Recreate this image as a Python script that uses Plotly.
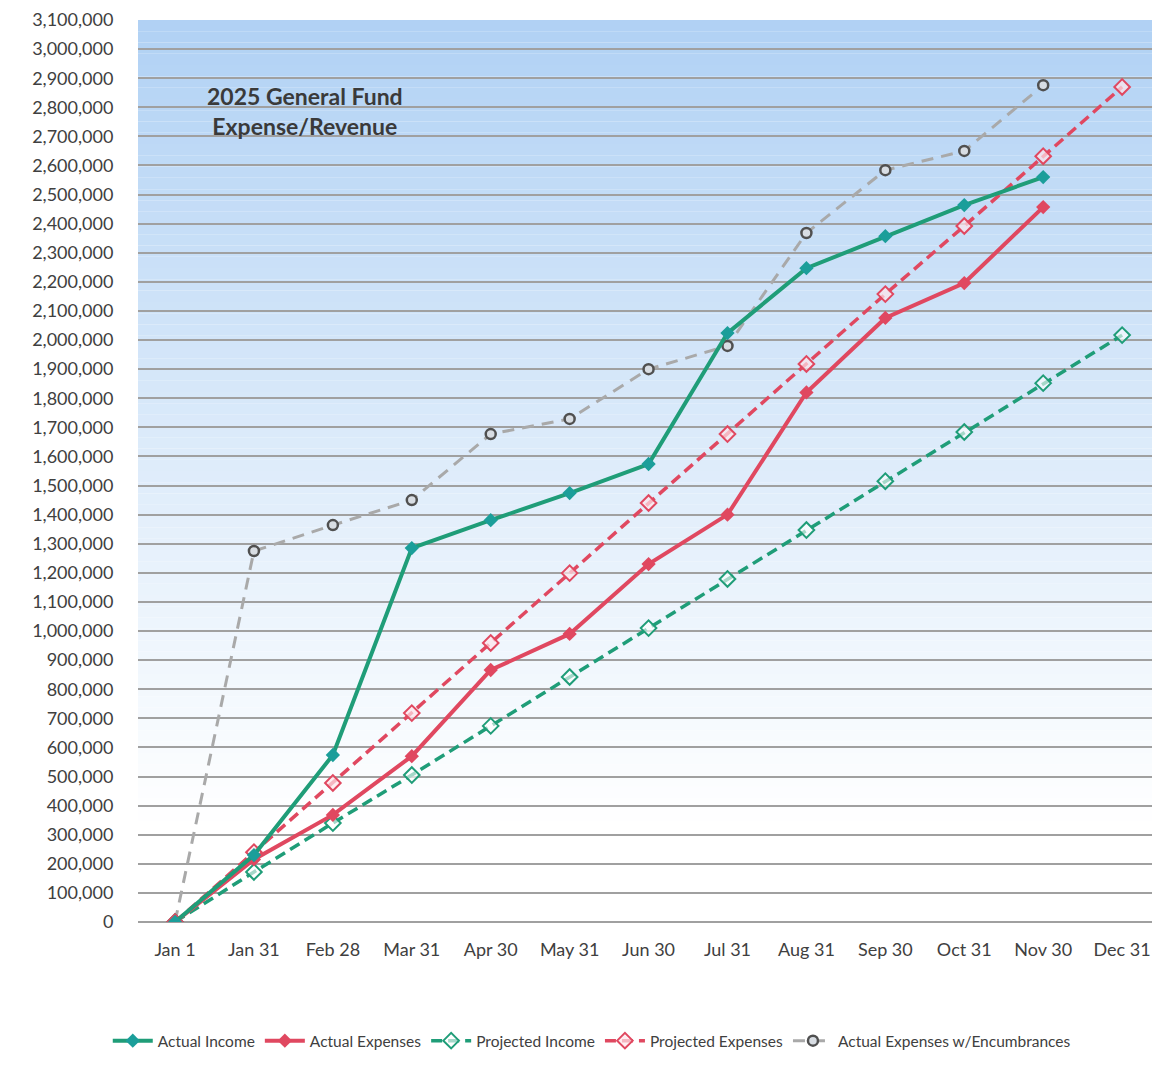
import plotly.graph_objects as go

categories = ["Jan 1", "Jan 31", "Feb 28", "Mar 31", "Apr 30", "May 31", "Jun 30",
              "Jul 31", "Aug 31", "Sep 30", "Oct 31", "Nov 30", "Dec 31"]

actual_income = [0, 230000, 574000, 1285000, 1381000, 1474000, 1574000,
                 2024000, 2247000, 2357000, 2464000, 2560000, None]
actual_expenses = [0, 215000, 368000, 570000, 866000, 990000, 1230000,
                   1400000, 1820000, 2076000, 2196000, 2457000, None]
projected_income = [0, 172000, 340000, 505000, 674000, 842000, 1010000,
                    1179000, 1347000, 1515000, 1684000, 1852000, 2017000]
projected_expenses = [0, 240000, 478000, 718000, 959000, 1199000, 1440000,
                      1677000, 1918000, 2158000, 2392000, 2632000, 2870000]
encumbrances = [0, 1275000, 1364000, 1450000, 1677000, 1729000, 1900000,
                1980000, 2368000, 2584000, 2650000, 2876000, None]

y_ticks = list(range(0, 3100001, 100000))
y_labels = [f"{v:,}" for v in y_ticks]

GREEN = "#1f9d78"
TEAL = "#1b9e9a"
RED = "#e04860"
GRAY = "#a9a9a9"

xi = list(range(len(categories)))

fig = go.Figure()

fig.add_trace(go.Scatter(
    x=xi, y=encumbrances, name="Actual Expenses w/Encumbrances", mode="lines+markers",
    line=dict(color=GRAY, width=3, dash="12px,8px"),
    marker=dict(symbol="circle", size=10, color="#d8dde3", line=dict(color="#505050", width=2.5)),
    connectgaps=False, legendrank=5))
fig.add_trace(go.Scatter(
    x=xi, y=projected_income, name="Projected Income", mode="lines+markers",
    line=dict(color=GREEN, width=3.5, dash="11px,6px"),
    marker=dict(symbol="diamond", size=12, color="rgba(255,255,255,0.6)", line=dict(color=GREEN, width=2)),
    legendrank=3))
fig.add_trace(go.Scatter(
    x=xi, y=projected_expenses, name="Projected Expenses", mode="lines+markers",
    line=dict(color=RED, width=3.5, dash="11px,6px"),
    marker=dict(symbol="diamond", size=12, color="rgba(255,230,235,0.7)", line=dict(color=RED, width=2)),
    legendrank=4))
fig.add_trace(go.Scatter(
    x=xi, y=actual_expenses, name="Actual Expenses", mode="lines+markers",
    line=dict(color=RED, width=4),
    marker=dict(symbol="diamond", size=11, color=RED),
    legendrank=2))
fig.add_trace(go.Scatter(
    x=xi, y=actual_income, name="Actual Income", mode="lines+markers",
    line=dict(color=GREEN, width=4),
    marker=dict(symbol="diamond", size=11, color=TEAL),
    legendrank=1))

# gradient background (blue at top fading to white)
n = 80
top = (176, 209, 244)
for i in range(n):
    y0 = i / n
    y1 = (i + 1) / n
    t = (y0 + y1) / 2
    f = max(0.0, min(1.0, (t - 0.1) / 0.9))
    f = f ** 1.1
    c = tuple(int(round(255 + (top[k] - 255) * f)) for k in range(3))
    fig.add_shape(type="rect", xref="x domain", yref="y domain", x0=0, x1=1, y0=y0, y1=y1,
                  fillcolor=f"rgb({c[0]},{c[1]},{c[2]})", line=dict(width=0), layer="below")

fig.add_annotation(
    text="<b>2025 General Fund<br>Expense/Revenue</b>", xref="paper", yref="paper",
    x=0.163, y=0.899, xanchor="center", yanchor="middle", showarrow=False, align="center",
    font=dict(family="Lato", size=23, color="#3a3a3a"))

fig.update_layout(
    width=1160, height=1068,
    margin=dict(l=130, r=8, t=12, b=154),
    paper_bgcolor="white", plot_bgcolor="white",
    font=dict(family="Lato", color="#404040"),
    showlegend=True,
    legend=dict(orientation="h", x=0.444, xanchor="center", y=-0.132, yanchor="middle",
                font=dict(size=15.5, color="#404040"), traceorder="normal",
                itemwidth=40, bgcolor="rgba(0,0,0,0)"),
)

fig.update_xaxes(
    automargin=False,
    range=[-0.469, 12.48], tickmode="array", tickvals=xi, ticktext=categories,
    showgrid=False, zeroline=False, showline=False,
    ticks="outside", ticklen=11, tickcolor="rgba(0,0,0,0)",
    tickfont=dict(size=18, color="#404040"))
fig.update_yaxes(
    automargin=False,
    range=[0, 3100000], tickmode="array", tickvals=y_ticks, ticktext=y_labels,
    showgrid=True, gridcolor="#a0a0a0", gridwidth=1.6,
    zeroline=True, zerolinecolor="#a0a0a0", zerolinewidth=1.6,
    showline=False, ticks="outside", ticklen=20, tickcolor="rgba(0,0,0,0)",
    tickfont=dict(size=18, color="#404040"))

fig.write_html("out.html")
